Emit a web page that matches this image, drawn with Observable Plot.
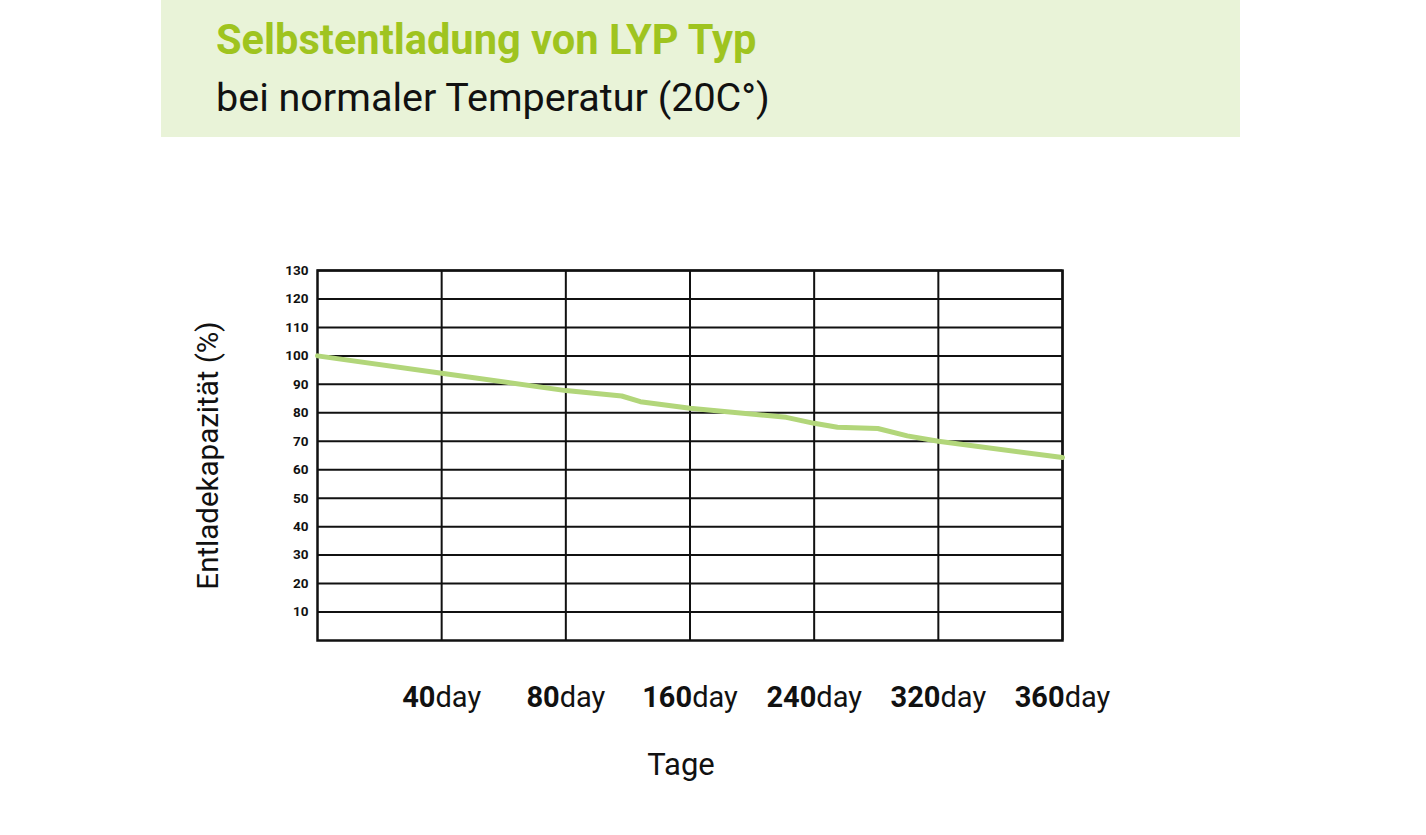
<!DOCTYPE html>
<html>
<head>
<meta charset="utf-8">
<script src="https://cdn.jsdelivr.net/npm/d3@7"></script>
<script src="https://cdn.jsdelivr.net/npm/@observablehq/plot@0.6"></script>
<style>
  html, body { margin: 0; padding: 0; background: #fff; }
  body { width: 1426px; height: 835px; position: relative; overflow: hidden; font-family: Roboto, sans-serif; }
  #header { position: absolute; left: 161px; top: 0; width: 1079px; height: 137px; background: #e9f3d8; }
  #title { position: absolute; left: 55px; top: 15px; font-size: 42px; font-weight: 700; color: #9fc41f; white-space: nowrap; transform: scaleX(0.99); transform-origin: left top; line-height: 1.2; }
  #subtitle { position: absolute; left: 55px; top: 74px; font-size: 39.5px; font-weight: 400; color: #111; white-space: nowrap; transform-origin: left top; line-height: 1.2; }
  #chart { position: absolute; left: 0; top: 0; }
</style>
</head>
<body>
<div id="header">
  <div id="title">Selbstentladung von LYP Typ</div>
  <div id="subtitle">bei normaler Temperatur (20C°)</div>
</div>
<div id="chart"></div>
<script>
// Data
const xTicks = [40, 80, 160, 240, 320, 360];
const xTickUnit = "day";
const yTicks = [10, 20, 30, 40, 50, 60, 70, 80, 90, 100, 110, 120, 130];
const days = [0, 40, 80, 116, 128, 160, 222, 240, 255, 281, 300, 320, 360];
const capacity = [100, 93.9, 87.8, 85.9, 83.9, 81.6, 78.4, 76.3, 74.9, 74.5, 71.9, 70.0, 64.3];
const yLabel = "Entladekapazität (%)";
const xLabel = "Tage";

const data = days.map((d, i) => ({day: d, value: capacity[i]}));

const W = 1426, H = 835;
const mL = 317, mR = 364, mT = 270, mB = 195;
const xDomain = [0, ...xTicks];
const xRange = xDomain.map((_, i) => mL + i * (W - mL - mR) / (xDomain.length - 1));

const chart = Plot.plot({
  width: W,
  height: H,
  marginLeft: mL,
  marginRight: mR,
  marginTop: mT,
  marginBottom: mB,
  style: {fontFamily: "Roboto, sans-serif", color: "#111", background: "transparent", overflow: "visible"},
  x: {type: "linear", domain: xDomain, range: xRange},
  y: {domain: [0, 130]},
  marks: [
    Plot.gridX(xTicks, {stroke: "#111", strokeOpacity: 1, strokeWidth: 2}),
    Plot.gridY(yTicks, {stroke: "#111", strokeOpacity: 1, strokeWidth: 2}),
    Plot.frame({stroke: "#111", strokeWidth: 2.5}),
    Plot.axisY(yTicks, {tickSize: 0, tickPadding: 9, fontSize: 13.5, fontWeight: "bold",
      label: yLabel, labelAnchor: "center", labelArrow: "none", labelOffset: 120}),
    Plot.axisX(xTicks, {tickSize: 0, tickPadding: 0, fontSize: 29, dy: 46, tickFormat: d => d + xTickUnit,
      label: xLabel, labelAnchor: "center", labelArrow: "none", labelOffset: 134}),
    Plot.line(data, {x: "day", y: "value", stroke: "#b2d67a", strokeWidth: 5, curve: "linear"})
  ]
});

document.getElementById("chart").appendChild(chart);

// bold numbers, regular unit in x tick labels
d3.select(chart).selectAll('[aria-label="x-axis tick label"] text').each(function () {
  const t = this.textContent;
  const num = t.replace(xTickUnit, "");
  const sel = d3.select(this);
  sel.text(null);
  sel.append("tspan").attr("font-weight", "bold").text(num);
  sel.append("tspan").text(xTickUnit);
});
d3.select(chart).selectAll('[aria-label="y-axis label"]')
  .attr("font-size", 29.5).attr("font-weight", "normal");
d3.select(chart).selectAll('[aria-label="y-axis label"] text').attr("font-weight", "normal");
d3.select(chart).selectAll('[aria-label="x-axis label"]').attr("font-size", 31);
d3.select(chart).selectAll('[aria-label="x-axis label"] text').attr("dx", -9);
</script>
</body>
</html>
